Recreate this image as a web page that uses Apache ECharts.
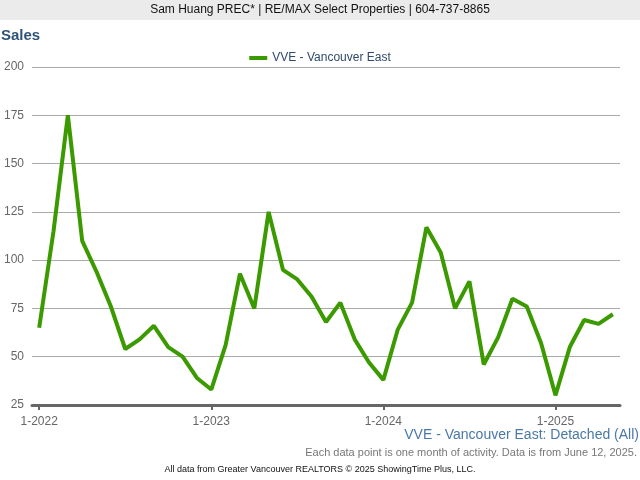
<!DOCTYPE html>
<html><head><meta charset="utf-8">
<script src="https://cdn.jsdelivr.net/npm/echarts@6/dist/echarts.min.js"></script>
<style>html,body{margin:0;padding:0;background:#fff}#c{width:640px;height:480px}</style>
</head><body><div id="c"></div>
<script>
const months = ['1-2022','2-2022','3-2022','4-2022','5-2022','6-2022','7-2022','8-2022','9-2022','10-2022','11-2022','12-2022',
'1-2023','2-2023','3-2023','4-2023','5-2023','6-2023','7-2023','8-2023','9-2023','10-2023','11-2023','12-2023',
'1-2024','2-2024','3-2024','4-2024','5-2024','6-2024','7-2024','8-2024','9-2024','10-2024','11-2024','12-2024',
'1-2025','2-2025','3-2025','4-2025','5-2025'];
const sales = [65,115,175,110,94,76,54,59,66,55,50,39,
33,56,93,75,125,95,90,81,68,78,59,47,
38,64,78,117,104,75,89,46,60,80,76,57,
30,55,69,67,72];
const seriesName = 'VVE - Vancouver East';
const FONT = '"Liberation Sans", Arial, sans-serif';
const chart = echarts.init(document.getElementById('c'), null, {renderer:'canvas'});
chart.setOption({
  animation:false,
  backgroundColor:'#ffffff',
  textStyle:{fontFamily:FONT},
  title:{text:'Sales', left:1, top:28, padding:0, textStyle:{fontFamily:FONT, fontSize:15, fontWeight:'bold', color:'#2e5377'}},
  legend:{data:[seriesName], top:47, left:'center', itemWidth:18, itemHeight:4, itemGap:6,
    icon:'rect', textStyle:{fontFamily:FONT, fontSize:12, color:'#2f4a6b'}},
  grid:{left:32, right:20, top:67, bottom:75, containLabel:false},
  xAxis:{type:'category', data:months, boundaryGap:true,
    axisLine:{lineStyle:{color:'#666666', width:3}},
    axisTick:{show:true, alignWithLabel:true, length:5, lineStyle:{color:'#666666', width:2}, interval:(i)=>i%12===0},
    axisLabel:{interval:(i)=>i%12===0, color:'#666666', fontSize:12, fontFamily:FONT, margin:11},
    splitLine:{show:false}},
  yAxis:{type:'value', min:25, max:200, interval:25,
    axisLine:{show:false}, axisTick:{show:false},
    axisLabel:{color:'#666666', fontSize:12, fontFamily:FONT, margin:8},
    splitLine:{lineStyle:{color:'#aaaaaa', width:1}}},
  series:[{name:seriesName, type:'line', data:sales, symbol:'none',
    lineStyle:{color:'#3a9a00', width:4}, itemStyle:{color:'#3a9a00'}}],
  graphic:[
    {type:'rect', left:0, top:0, shape:{width:640, height:20}, style:{fill:'#ebebeb'}, z:-1},
    {type:'text', left:'center', top:4, style:{text:'Sam Huang PREC* | RE/MAX Select Properties | 604-737-8865', font:'12px '+FONT, fill:'#111'}},
    {type:'text', right:1, top:428, style:{text:'VVE - Vancouver East: Detached (All)', font:'14px '+FONT, fill:'#4a78a8'}},
    {type:'text', right:3, top:447, style:{text:'Each data point is one month of activity. Data is from June 12, 2025.', font:'11px '+FONT, fill:'#777777'}},
    {type:'text', left:'center', top:465, style:{text:'All data from Greater Vancouver REALTORS © 2025 ShowingTime Plus, LLC.', font:'9px '+FONT, fill:'#111'}}
  ]
});
</script></body></html>
